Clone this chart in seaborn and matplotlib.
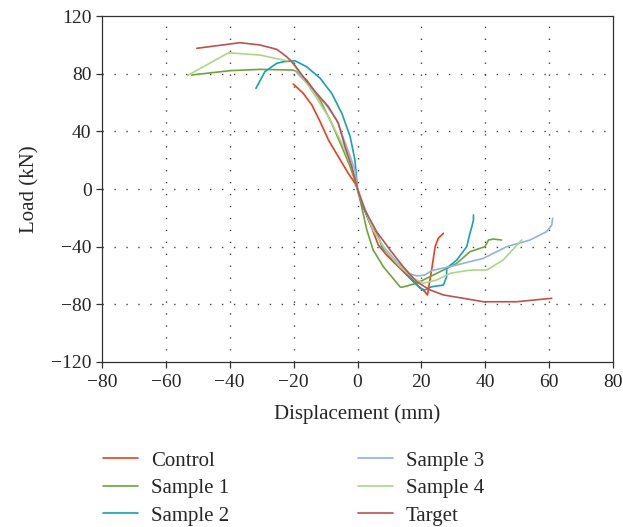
import pandas as pd
import matplotlib
matplotlib.use("Agg")
import matplotlib.pyplot as plt
import seaborn as sns

# load-displacement curves (mm, kN)
control_x = [-20.1, -17.0, -14.3, -11.7, -9.1, -6.0, -2.9, -0.8, 0.0, 0.8, 3.9, 6.5, 9.1, 13.3, 17.5, 21.1, 21.9, 23.2, 24.3, 25.3, 26.9]
control_y = [72.8, 66.4, 58.3, 46.7, 34.0, 22.4, 10.9, 4.0, 0.0, -6.5, -23.8, -38.8, -45.8, -55.0, -64.3, -71.2, -73.5, -56.2, -40.0, -34.2, -30.7]

s1_x = [-51.9, -39.9, -30.5, -20.1, -19.0, -15.9, -11.7, -8.1, -4.9, -2.3, 0.0, 1.3, 2.9, 4.9, 8.1, 13.3, 13.8, 18.5, 23.7, 29.0, 31.1, 35.2, 39.9, 41.0, 42.5, 45.1]
s1_y = [79.1, 82.1, 83.0, 82.5, 81.4, 75.6, 61.7, 45.6, 29.3, 15.5, 0.0, -12.3, -28.4, -42.3, -53.9, -67.8, -68.2, -65.4, -59.7, -53.9, -51.5, -43.5, -40.0, -35.4, -34.7, -35.4]

s2_x = [-31.8, -29.0, -25.3, -23.2, -19.6, -15.9, -11.7, -8.1, -4.9, -2.3, -0.8, 0.0, 1.3, 3.9, 6.5, 7.6, 11.2, 15.4, 19.6, 21.1, 23.2, 26.9, 27.9, 27.9, 31.1, 34.2, 35.2, 35.8, 36.3, 36.3]
s2_y = [69.8, 81.4, 87.2, 88.3, 89.0, 84.8, 76.8, 66.4, 52.5, 36.3, 20.1, 0.0, -10.0, -23.8, -33.0, -40.0, -49.2, -58.5, -68.9, -70.0, -67.8, -66.6, -60.8, -55.0, -49.2, -40.0, -30.7, -26.1, -21.5, -18.0]

s3_x = [-19.5, -14.9, -10.2, -6.5, -3.4, -0.8, 0.0, 1.3, 4.9, 8.1, 12.3, 15.9, 18.5, 21.1, 23.2, 27.9, 31.1, 35.2, 39.4, 46.7, 54.0, 59.2, 60.8, 61.1]
s3_y = [82.0, 71.0, 59.4, 47.9, 29.3, 13.2, 0.0, -7.6, -28.4, -40.0, -50.4, -58.5, -60.3, -59.7, -56.6, -54.3, -52.7, -50.4, -48.1, -40.0, -35.4, -29.6, -25.0, -20.3]

s4_x = [-53.3, -40.4, -30.5, -22.2, -21.1, -18.0, -13.8, -9.1, -4.9, -1.8, 0.0, 1.3, 4.9, 9.1, 13.3, 17.5, 20.6, 24.8, 29.0, 34.2, 36.3, 40.5, 45.6, 51.4]
s4_y = [78.6, 94.5, 92.9, 89.0, 89.5, 80.3, 66.4, 50.2, 31.7, 15.5, 0.0, -8.8, -28.4, -43.5, -53.9, -61.9, -65.4, -63.1, -58.5, -56.6, -56.2, -56.2, -49.2, -35.4]

target_x = [-50.3, -36.8, -30.5, -25.3, -22.2, -20.1, -17.0, -12.8, -9.1, -6.0, -3.9, -1.8, 0.0, 2.3, 6.0, 10.2, 14.3, 18.5, 22.7, 26.9, 33.1, 39.4, 49.8, 60.8]
target_y = [97.6, 101.5, 99.9, 96.9, 91.8, 87.2, 77.9, 66.4, 57.1, 45.6, 29.3, 15.5, 0.0, -14.6, -29.6, -42.3, -53.9, -64.3, -70.0, -73.5, -75.8, -78.2, -78.2, -75.8]

names = ["Control", "Sample 1", "Sample 2", "Sample 3", "Sample 4", "Target"]
colors = ["#e8401c", "#70a33a", "#17a0b8", "#8db3e2", "#add58a", "#c0504d"]
xs = [control_x, s1_x, s2_x, s3_x, s4_x, target_x]
ys = [control_y, s1_y, s2_y, s3_y, s4_y, target_y]


def main():
    sns.set_style("ticks")
    plt.rcParams["font.family"] = ["Liberation Serif", "DejaVu Serif"]

    frames = []
    for n, x, y in zip(names, xs, ys):
        frames.append(pd.DataFrame({"Displacement": x, "Load": y, "Specimen": n}))
    dfrm = pd.concat(frames, ignore_index=True)

    fig = plt.figure(figsize=(6.23, 5.27), dpi=100)
    ax = fig.add_axes([0.1637, 0.3131, 0.8203, 0.6565])

    sns.lineplot(data=dfrm, x="Displacement", y="Load", hue="Specimen",
                 palette=dict(zip(names, colors)), sort=False, estimator=None,
                 units="Specimen", linewidth=1.2, ax=ax, legend=False)

    ax.set_xlim(-80, 80)
    ax.set_ylim(-120, 120)
    ax.set_xticks(range(-80, 81, 20))
    ax.set_yticks(range(-120, 121, 40))
    ax.tick_params(labelsize=14, length=4, width=0.9, color="#333333", direction="out")
    ax.tick_params(axis="x", pad=5)
    ax.set_xlabel("Displacement (mm)", fontsize=15, labelpad=9)
    ax.set_ylabel("Load (kN)", fontsize=15, labelpad=8)
    for sp in ax.spines.values():
        sp.set_linewidth(0.9)
        sp.set_color("#333333")

    # dotted grid, skipping the frame edges
    for gx in range(-60, 61, 20):
        ax.axvline(gx, color="#444444", lw=1.0, ls=(0, (1.0, 7.6)), zorder=0)
    for gy in range(-80, 81, 40):
        ax.axhline(gy, color="#444444", lw=1.0, ls=(0, (1.0, 7.6)), zorder=0)

    handles = [plt.Line2D([], [], color=c, lw=1.2) for c in colors]
    fig.legend(handles, names, loc="upper left", bbox_to_anchor=(0.165, 0.144),
               ncol=2, frameon=False, fontsize=15, handlelength=1.7,
               handletextpad=0.6, columnspacing=6.2, labelspacing=0.38,
               borderaxespad=0, borderpad=0)

    fig.savefig("out.png", dpi=100)


if __name__ == "__main__":
    main()
